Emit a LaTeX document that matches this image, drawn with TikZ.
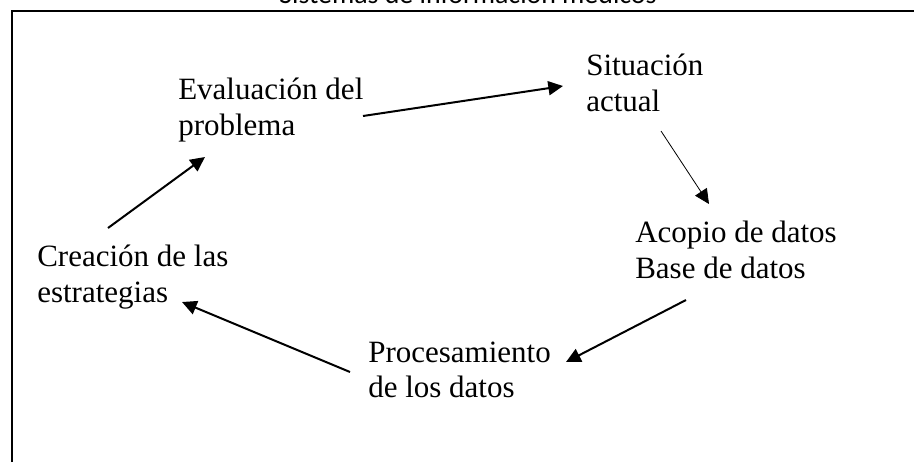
\documentclass[tikz,border=0pt]{standalone}
\usepackage{fontspec}
\setmainfont{Liberation Serif}
\newfontfamily\titlefont{Carlito}
\usetikzlibrary{arrows.meta,calc}

\begin{document}
\begin{tikzpicture}[x=0.75pt,y=-0.75pt,
    font=\fontsize{23.25pt}{26.7pt}\selectfont,
    txt/.style={anchor=north west,inner sep=0,align=left},
    arr/.style={line width=1.5pt,-{Triangle[length=11pt,width=10.5pt]}}]

\useasboundingbox (0,0) rectangle (914,462);

% Title (cut by the page)
\node[anchor=base,inner sep=0,font=\titlefont\fontsize{20.9pt}{24pt}\selectfont]
    (title) at (468,3) {Sistemas de información médicos};

% Frame
\draw[line width=1.5pt] (12,462) |- (914,11);

% Evaluation
\node[txt] (block1) at (178,78) {Evaluación del\\problema};

% Current situation
\node[txt] (block2) at (586,54) {Situación\\actual};

% Data collection
\node[txt] (block3) at (635,221) {Acopio de datos\\Base de datos};

% Processing
\node[txt] (block4) at (368,341.5) {Procesamiento\\de los datos};

% Strategies
\node[txt] (block5) at (37,245) {Creación de las\\estrategias};

% Arrows
\draw[arr] ($(block5.north west)+(71,-17)$) -- ($(block1.north west)+(27,79)$);
\draw[arr] ($(block1.north west)+(185,38)$) -- ($(block2.north west)+(-23,32)$);
\draw[arr,line width=0.6pt] ($(block2.north west)+(75,77)$) -- ($(block3.north west)+(74,-17)$);
\draw[arr] ($(block3.north west)+(51,79)$) -- ($(block4.north west)+(198,20.5)$);
\draw[arr] ($(block4.north west)+(-18,30.5)$) -- ($(block5.north west)+(145,57)$);

\end{tikzpicture}
\end{document}
